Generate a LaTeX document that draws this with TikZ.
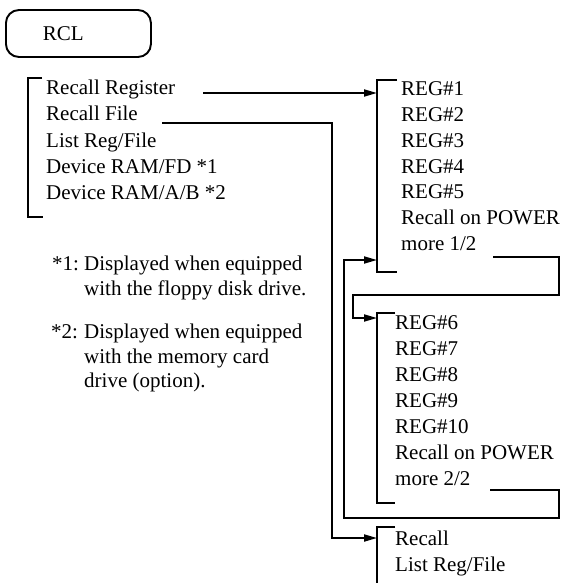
\documentclass[tikz,border=0pt]{standalone}
\usepackage{fontspec}
\setmainfont{Liberation Serif}
\usetikzlibrary{arrows.meta}
\begin{document}
\begin{tikzpicture}[x=1pt,y=-1pt,
  lbl/.style={anchor=base west,inner sep=0pt,font=\fontsize{21}{26}\selectfont},
  wire/.style={line width=1.9pt},
  arr/.style={wire,-{Triangle[length=13pt,width=7pt]}},
  brk/.style={line width=1.9pt}]
\useasboundingbox (0,0) rectangle (563,583);

% RCL key
\node[draw, line width=1.9pt, rounded corners=13pt, anchor=west,
      inner xsep=37pt, inner ysep=0pt, text width=71pt, align=left,
      minimum height=47pt, font=\fontsize{21}{26}\selectfont] (rcl) at (5,33.5) {RCL};

% main menu
\draw[brk] (42,78) -- (28,78) -- (28,217) -- (43,217);
\node[lbl] (m1) at (46,95) {Recall Register};
\node[lbl] (m2) at (46,121) {Recall File};
\node[lbl] (m3) at (46,147) {List Reg/File};
\node[lbl] (m4) at (46,173) {Device RAM/FD *1};
\node[lbl] (m5) at (46,199) {Device RAM/A/B *2};

% footnotes
\node[lbl] (f1k) at (52,270) {*1:};
\node[lbl] (f1a) at (84,270) {Displayed when equipped};
\node[lbl] (f1b) at (84,295) {with the floppy disk drive.};
\node[lbl] (f2k) at (51,338) {*2:};
\node[lbl] (f2a) at (84,338) {Displayed when equipped};
\node[lbl] (f2b) at (84,363) {with the memory card};
\node[lbl] (f2c) at (84,387) {drive (option).};

% register page 1
\draw[brk] (397,80) -- (377,80) -- (377,272) -- (397,272);
\node[lbl] (r1) at (401,96) {REG\#1};
\node[lbl] (r2) at (401,121.7) {REG\#2};
\node[lbl] (r3) at (401,147.4) {REG\#3};
\node[lbl] (r4) at (401,173.1) {REG\#4};
\node[lbl] (r5) at (401,198.8) {REG\#5};
\node[lbl] (rp1) at (401,224.5) {Recall on POWER};
\node[lbl] (mo1) at (401,250.2) {more 1/2};

% register page 2
\draw[brk] (395,313) -- (377,313) -- (377,503) -- (395,503);
\node[lbl] (r6) at (395,329) {REG\#6};
\node[lbl] (r7) at (395,355.1) {REG\#7};
\node[lbl] (r8) at (395,381.2) {REG\#8};
\node[lbl] (r9) at (395,407.3) {REG\#9};
\node[lbl] (r10) at (395,433.4) {REG\#10};
\node[lbl] (rp2) at (395,459.5) {Recall on POWER};
\node[lbl] (mo2) at (395,485.6) {more 2/2};

% file menu
\draw[brk] (395,527) -- (377,527) -- (377,590);
\node[lbl] (fr) at (395,545) {Recall};
\node[lbl] (fl) at (395,571) {List Reg/File};

% connector end points
\coordinate (m1out) at (203,93);
\coordinate (p1in) at (377,93);
\coordinate (m2out) at (162,123);
\coordinate (fin) at (377,538);
\coordinate (mo1out) at (493,257);
\coordinate (p2in) at (377,318);
\coordinate (mo2out) at (490,490);
\coordinate (p1back) at (377,260);

\draw[arr] (m1out) -- (p1in);
\draw[arr] (m2out) -- (332,123) -- (332,538) -- (fin);
\draw[arr] (mo1out) -- (559,257) -- (559,295) -- (353,295) -- (353,318) -- (p2in);
\draw[arr] (mo2out) -- (559,490) -- (559,518) -- (344,518) -- (344,260) -- (p1back);
\end{tikzpicture}
\end{document}
